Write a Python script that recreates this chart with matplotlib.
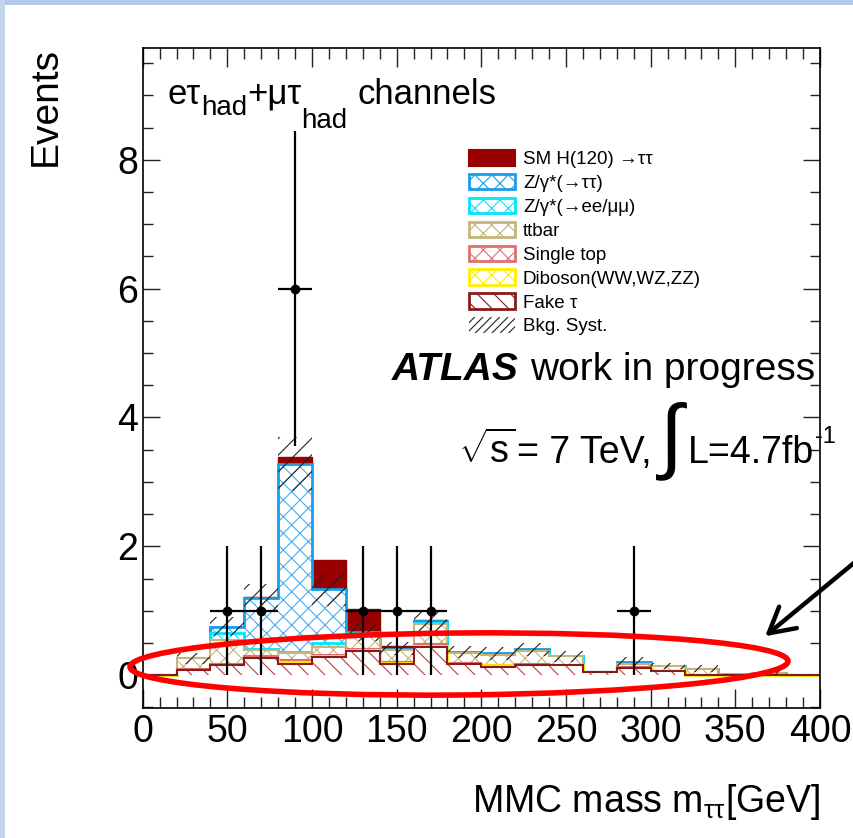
import matplotlib
matplotlib.use("Agg")
import matplotlib.pyplot as plt
import numpy as np
from matplotlib.patches import Ellipse, Patch, Rectangle
from matplotlib.ticker import MultipleLocator

W, H = 854, 838

plt.rcParams['font.family'] = ['Liberation Sans', 'DejaVu Sans']
plt.rcParams['mathtext.fontset'] = 'custom'
plt.rcParams['mathtext.rm'] = 'Liberation Sans'
plt.rcParams['mathtext.it'] = 'Liberation Sans:italic'
plt.rcParams['mathtext.bf'] = 'Liberation Sans:bold'
plt.rcParams['hatch.linewidth'] = 0.8

# MMC mass bins, 20 GeV wide
edges = [0, 20, 40, 60, 80, 100, 120, 140, 160, 180, 200,
         220, 240, 260, 280, 300, 320, 340, 360, 380, 400]

fake = [0.01, 0.08, 0.15, 0.26, 0.18, 0.28, 0.38, 0.18, 0.44, 0.17,
        0.13, 0.15, 0.15, 0.05, 0.11, 0.06, 0.01, 0.01, 0.01, 0.01]
diboson = [0.0, 0.0, 0.01, 0.01, 0.03, 0.02, 0.01, 0.01, 0.02, 0.01,
           0.02, 0.01, 0.0, 0.0, 0.0, 0.0, 0.0, 0.0, 0.0, 0.0]
single_top = [0.0, 0.01, 0.02, 0.02, 0.02, 0.02, 0.02, 0.02, 0.02, 0.01,
              0.01, 0.01, 0.01, 0.0, 0.01, 0.01, 0.0, 0.0, 0.0, 0.0]
ttbar = [0.0, 0.17, 0.36, 0.10, 0.12, 0.12, 0.23, 0.18, 0.32, 0.15,
         0.16, 0.21, 0.13, 0.0, 0.06, 0.07, 0.09, 0.005, 0.025, 0.0]
z_ll = [0.0, 0.0, 0.12, 0.02, 0.01, 0.06, 0.01, 0.0, 0.01, 0.0,
        0.0, 0.0, 0.0, 0.0, 0.0, 0.0, 0.0, 0.0, 0.0, 0.0]
z_tautau = [0.0, 0.0, 0.09, 0.79, 2.92, 0.83, 0.02, 0.02, 0.03, 0.02,
            0.02, 0.02, 0.0, 0.0, 0.03, 0.0, 0.0, 0.0, 0.0, 0.0]
higgs = [0.0, 0.0, 0.0, 0.01, 0.10, 0.46, 0.35, 0.04, 0.01, 0.0,
         0.0, 0.0, 0.0, 0.0, 0.0, 0.0, 0.0, 0.0, 0.0, 0.0]
bkg_syst = [0.01, 0.08, 0.15, 0.22, 0.42, 0.26, 0.14, 0.10, 0.15, 0.10,
            0.10, 0.10, 0.08, 0.02, 0.07, 0.05, 0.05, 0.01, 0.03, 0.01]

data_x = [50, 70, 90, 130, 150, 170, 290]
data_n = [1, 1, 6, 1, 1, 1, 1]
data_err = [1, 1, 2.45, 1, 1, 1, 1]

labels = ['SM H(120) →ττ', 'Z/γ*(→ττ)', 'Z/γ*(→ee/μμ)', 'ttbar',
          'Single top', 'Diboson(WW,WZ,ZZ)', 'Fake τ', 'Bkg. Syst.']


def fx(x):
    return x / W


def fy(y):
    return 1 - y / H


fig = plt.figure(figsize=(W / 100, H / 100), dpi=100)
fig.patch.set_facecolor('white')
renderer = fig.canvas.get_renderer()


def text_px(x, y, s, **kw):
    # place text at pixel position (from top-left), return its pixel extent
    t = fig.text(fx(x), fy(y), s, va='baseline', **kw)
    return t.get_window_extent(renderer)


# slide border
fig.add_artist(Rectangle((0, fy(5)), 1, 5 / H, transform=fig.transFigure,
                         facecolor='#b4c8ea', edgecolor='none'))
fig.add_artist(Rectangle((0, 0), 5 / W, 1, transform=fig.transFigure,
                         facecolor='#c4d3ee', edgecolor='none'))

ax = fig.add_axes([fx(142.7), fy(708), fx(820) - fx(142.7), (708 - 47.7) / H])
ax.set_xlim(0, 400)
ax.set_ylim(-0.51, 9.74)

# stack: (values, fill colour, hatch colour, hatch, outline colour, outline width)
stack = [
    (fake, 'white', '#b84040', '\\\\', '#8b1a1a', 1.5),
    (diboson, 'white', '#ffee00', 'xx', '#ffee00', 2.0),
    (single_top, 'white', '#e07070', 'xx', '#e07070', 1.5),
    (ttbar, 'white', '#c4b67a', 'xx', '#c4b67a', 1.5),
    (z_ll, 'white', '#00e5ff', 'xx', '#00e5ff', 2.0),
    (z_tautau, 'white', '#45aef2', 'xx', '#1a9ee8', 2.0),
    (higgs, '#990000', '#990000', None, '#990000', 1.0),
]

# THStack style: cumulative sums drawn from the largest down
cums = np.cumsum([np.array(s[0]) for s in stack], axis=0)
for i in range(len(stack) - 1, -1, -1):
    _, fc, hc, hatch, ec, lw = stack[i]
    ax.stairs(cums[i], edges, baseline=0, fill=True, facecolor=fc,
              edgecolor=hc, hatch=hatch, linewidth=0, zorder=2)
    ax.stairs(cums[i], edges, baseline=0, color=ec, linewidth=lw, zorder=2)

bkg_total = cums[5]
syst = np.array(bkg_syst)
ax.stairs(bkg_total + syst, edges, baseline=bkg_total - syst, fill=True,
          facecolor='none', edgecolor='#222222', hatch='//', linewidth=0, zorder=4)

ax.errorbar(data_x, data_n, xerr=10, yerr=data_err, fmt='o', color='black',
            ms=6, elinewidth=1.6, capsize=0, zorder=6)

# ROOT style ticks
ax.xaxis.set_major_locator(MultipleLocator(50))
ax.xaxis.set_minor_locator(MultipleLocator(10))
ax.yaxis.set_major_locator(MultipleLocator(2))
ax.yaxis.set_minor_locator(MultipleLocator(0.5))
ax.tick_params(which='both', direction='in', top=True, right=True,
               labelsize=27, color='#222222', width=1.0)
ax.tick_params(axis='x', which='major', length=14, pad=4.5)
ax.tick_params(axis='x', which='minor', length=8)
ax.tick_params(axis='y', which='major', length=12, pad=3.2)
ax.tick_params(axis='y', which='minor', length=7)
for s in ax.spines.values():
    s.set_linewidth(1.2)

# legend
handles = [
    Patch(facecolor='#990000', edgecolor='#990000', lw=1.5),
    Patch(facecolor='white', edgecolor='#1a9ee8', hatch='xx', lw=2),
    Patch(facecolor='white', edgecolor='#00e5ff', hatch='xx', lw=2),
    Patch(facecolor='white', edgecolor='#c4b67a', hatch='xx', lw=2),
    Patch(facecolor='white', edgecolor='#e07070', hatch='xx', lw=2),
    Patch(facecolor='white', edgecolor='#ffee00', hatch='xx', lw=2),
    Patch(facecolor='white', edgecolor='#8b1a1a', hatch='\\\\', lw=2),
    Patch(facecolor='none', edgecolor='#222222', hatch='////', lw=0),
]
ax.legend(handles, labels, loc='upper left', bbox_to_anchor=(fx(469), fy(150)),
          bbox_transform=fig.transFigure, frameon=False, fontsize=13.5,
          handlelength=2.45, handleheight=0.9, handletextpad=0.43,
          labelspacing=0.3, borderpad=0, borderaxespad=0)

# axis titles
fig.text(fx(46), fy(47), 'Events', rotation=90, ha='center', va='top', fontsize=28)
fig.text(fx(821), fy(812), r'MMC mass m$_{\mathrm{ττ}}$[GeV]', ha='right',
         va='baseline', fontsize=27)

# channel label, ROOT-like subscripts
bb = text_px(168, 104, 'eτ', ha='left', fontsize=25)
bb = text_px(bb.x1, 115, 'had', ha='left', fontsize=20)
bb = text_px(bb.x1, 104, '+μτ', ha='left', fontsize=25)
bb = text_px(bb.x1, 128, 'had', ha='left', fontsize=20)
text_px(bb.x1 + 10, 104, 'channels', ha='left', fontsize=25)

# ATLAS label
text_px(392, 380, 'ATLAS', fontweight='bold', fontstyle='italic', ha='left', fontsize=28)
text_px(815, 380, 'work in progress', ha='right', fontsize=28)

bb = text_px(652, 463, '= 7 TeV,', ha='right', fontsize=27)
text_px(bb.x0 - 2, 463, r'$\sqrt{\mathrm{s}}$', ha='right', fontsize=27)
text_px(660, 462, '∫', ha='left', fontsize=60)
bb = text_px(688, 463, 'L=4.7fb', ha='left', fontsize=27)
text_px(bb.x1 + 1, 443, '-1', ha='left', fontsize=17)

# annotation drawn on the slide
fig.add_artist(Ellipse((459 / 100, (H - 664) / 100), 6.58, 0.62, angle=0.5,
                       transform=fig.dpi_scale_trans, facecolor='none',
                       edgecolor='#ff0000', linewidth=4, zorder=20))
ax.annotate('', xy=(763, H - 638), xytext=(872, H - 548), xycoords='figure pixels',
            textcoords='figure pixels', annotation_clip=False,
            arrowprops=dict(arrowstyle='->, head_length=0.9, head_width=0.5',
                            mutation_scale=20, lw=3.2, color='black'), zorder=20)

fig.savefig('out.png', dpi=100, facecolor='white')
